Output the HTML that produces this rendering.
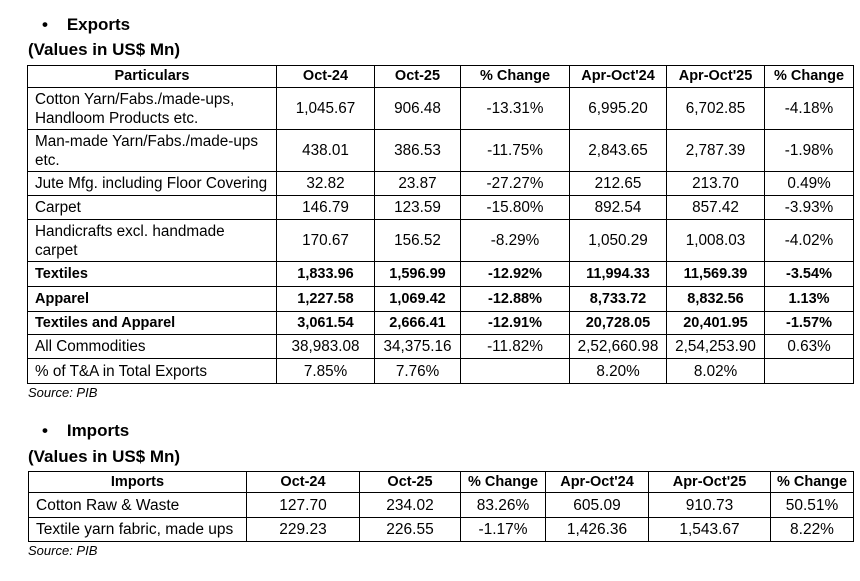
<!DOCTYPE html>
<html><head><meta charset="utf-8"><style>
body{margin:0;width:860px;height:581px;background:#fff;font-family:"Liberation Sans",sans-serif;color:#000;position:relative;overflow:hidden}
.t{position:absolute;font-size:17px;font-weight:bold}
table{position:absolute;border-collapse:collapse;table-layout:fixed;font-size:15.3px}
td{border:1px solid #000;line-height:19px;text-align:center;padding:0;vertical-align:middle;white-space:nowrap}
td.l{text-align:left;padding-left:7px}
tr.b td{font-weight:bold;font-size:14.5px}
.s{position:absolute;font-size:13px;font-style:italic}
.bul{position:absolute;font-size:17px;font-weight:bold}
</style></head><body>
<div class="bul" style="left:42px;top:15px">•&nbsp;&nbsp;&nbsp;&nbsp;Exports</div>
<div class="t" style="left:28px;top:40px">(Values in US$ Mn)</div>
<table style="left:27px;top:65px;width:826px">
<colgroup><col style="width:249px"><col style="width:98px"><col style="width:86px"><col style="width:109px"><col style="width:97px"><col style="width:98px"><col style="width:89px"></colgroup>
<tr class="b" style="height:22px"><td>Particulars</td><td>Oct-24</td><td>Oct-25</td><td>% Change</td><td>Apr-Oct'24</td><td>Apr-Oct'25</td><td>% Change</td></tr>
<tr style="height:42px"><td class="l">Cotton Yarn/Fabs./made-ups,<br>Handloom Products etc.</td><td>1,045.67</td><td>906.48</td><td>-13.31%</td><td>6,995.20</td><td>6,702.85</td><td>-4.18%</td></tr>
<tr style="height:42px"><td class="l">Man-made Yarn/Fabs./made-ups<br>etc.</td><td>438.01</td><td>386.53</td><td>-11.75%</td><td>2,843.65</td><td>2,787.39</td><td>-1.98%</td></tr>
<tr style="height:24px"><td class="l">Jute Mfg. including Floor Covering</td><td>32.82</td><td>23.87</td><td>-27.27%</td><td>212.65</td><td>213.70</td><td>0.49%</td></tr>
<tr style="height:24px"><td class="l">Carpet</td><td>146.79</td><td>123.59</td><td>-15.80%</td><td>892.54</td><td>857.42</td><td>-3.93%</td></tr>
<tr style="height:42px"><td class="l">Handicrafts excl. handmade<br>carpet</td><td>170.67</td><td>156.52</td><td>-8.29%</td><td>1,050.29</td><td>1,008.03</td><td>-4.02%</td></tr>
<tr class="b" style="height:25px"><td class="l">Textiles</td><td>1,833.96</td><td>1,596.99</td><td>-12.92%</td><td>11,994.33</td><td>11,569.39</td><td>-3.54%</td></tr>
<tr class="b" style="height:25px"><td class="l">Apparel</td><td>1,227.58</td><td>1,069.42</td><td>-12.88%</td><td>8,733.72</td><td>8,832.56</td><td>1.13%</td></tr>
<tr class="b" style="height:23px"><td class="l">Textiles and Apparel</td><td>3,061.54</td><td>2,666.41</td><td>-12.91%</td><td>20,728.05</td><td>20,401.95</td><td>-1.57%</td></tr>
<tr style="height:24px"><td class="l">All Commodities</td><td>38,983.08</td><td>34,375.16</td><td>-11.82%</td><td>2,52,660.98</td><td>2,54,253.90</td><td>0.63%</td></tr>
<tr style="height:25px"><td class="l">% of T&amp;A in Total Exports</td><td>7.85%</td><td>7.76%</td><td></td><td>8.20%</td><td>8.02%</td><td></td></tr>
</table>
<div class="s" style="left:28px;top:385px">Source: PIB</div>
<div class="bul" style="left:42px;top:421px">•&nbsp;&nbsp;&nbsp;&nbsp;Imports</div>
<div class="t" style="left:28px;top:447px">(Values in US$ Mn)</div>
<table style="left:28px;top:471px;width:825px;font-size:15.5px">
<colgroup><col style="width:218px"><col style="width:113px"><col style="width:101px"><col style="width:85px"><col style="width:103px"><col style="width:122px"><col style="width:83px"></colgroup>
<tr class="b" style="height:21px"><td>Imports</td><td>Oct-24</td><td>Oct-25</td><td>% Change</td><td>Apr-Oct'24</td><td>Apr-Oct'25</td><td>% Change</td></tr>
<tr style="height:25px"><td class="l">Cotton Raw &amp; Waste</td><td>127.70</td><td>234.02</td><td>83.26%</td><td>605.09</td><td>910.73</td><td>50.51%</td></tr>
<tr style="height:24px"><td class="l">Textile yarn fabric, made ups</td><td>229.23</td><td>226.55</td><td>-1.17%</td><td>1,426.36</td><td>1,543.67</td><td>8.22%</td></tr>
</table>
<div class="s" style="left:28px;top:543px">Source: PIB</div>
</body></html>
